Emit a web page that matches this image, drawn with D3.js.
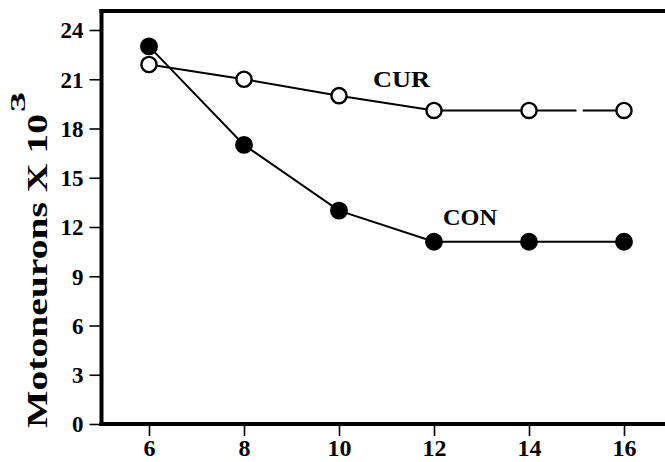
<!DOCTYPE html>
<html>
<head>
<meta charset="utf-8">
<script src="https://cdn.jsdelivr.net/npm/d3@7"></script>
<style>
  html, body { margin: 0; padding: 0; background: #fff; }
  svg { display: block; }
  text { font-family: "Liberation Serif", "Times New Roman", serif; font-weight: bold; fill: #000; }
</style>
</head>
<body>
<svg id="chart" width="665" height="462"></svg>
<script>
// Age (days) on the x axis
const ages = [6, 8, 10, 12, 14, 16];
// Motoneuron counts (x 10^3)
const curValues = [21.9, 21.0, 20.0, 19.1, 19.1, 19.1];
const conValues = [23.0, 17.0, 13.0, 11.1, 11.1, 11.1];
// Axis ticks
const xTicks = [6, 8, 10, 12, 14, 16];
const yTicks = [0, 3, 6, 9, 12, 15, 18, 21, 24];
// Series labels
const seriesNames = ["CUR", "CON"];
// Short break drawn in the CUR line between its last two points
const curBreak = [15.0, 15.13];

const svg = d3.select("#chart");

const x = d3.scaleLinear().domain([5, 17]).range([101.5, 671.5]);
const y = d3.scaleLinear().domain([0, 24]).range([424, 30]);
const yTop = 25.15;

// Axes (ticks + labels only; the frame is drawn separately)
const yAxis = svg.append("g")
  .attr("transform", `translate(${x(5)},0)`)
  .call(d3.axisLeft(y).tickValues(yTicks).tickSize(12).tickPadding(6));
yAxis.select(".domain").remove();
yAxis.selectAll(".tick line").attr("stroke", "#000").attr("stroke-width", 1.6);
yAxis.selectAll(".tick text")
  .style("font-size", "23px").attr("dy", "0.34em").attr("x", -18);

const xAxis = svg.append("g")
  .attr("transform", `translate(0,${y(0)})`)
  .call(d3.axisBottom(x).tickValues(xTicks).tickSize(12).tickPadding(0));
xAxis.select(".domain").remove();
xAxis.selectAll(".tick line").attr("stroke", "#000").attr("stroke-width", 1.6);
xAxis.selectAll(".tick text")
  .style("font-size", "24px").attr("dy", null).attr("y", 32);

// Frame: left, bottom and top edges
const frame = svg.append("g").attr("stroke", "#000").attr("stroke-width", 4).attr("fill", "none");
frame.append("line").attr("x1", x(5)).attr("x2", x(5)).attr("y1", y(yTop) - 2).attr("y2", y(0) + 2);
frame.append("line").attr("x1", x(5) - 2).attr("x2", x(17)).attr("y1", y(0)).attr("y2", y(0));
frame.append("line").attr("x1", x(5) - 2).attr("x2", x(17)).attr("y1", y(yTop)).attr("y2", y(yTop));

// Y axis title
const title = svg.append("g").attr("transform", `translate(47,${428}) rotate(-90)`);
title.append("text")
  .attr("x", 0).attr("y", 0)
  .attr("textLength", 314).attr("lengthAdjust", "spacingAndGlyphs")
  .style("font-size", "30px")
  .text("Motoneurons X 10");
title.append("text")
  .attr("x", 316).attr("y", -22)
  .attr("textLength", 20).attr("lengthAdjust", "spacingAndGlyphs")
  .style("font-size", "22px")
  .text("3");

const pts = (vals) => ages.map((a, i) => [a, vals[i]]);
const line = d3.line().x(d => x(d[0])).y(d => y(d[1]));

// CON: solid line with filled markers
svg.append("path")
  .datum(pts(conValues))
  .attr("d", line)
  .attr("fill", "none").attr("stroke", "#000").attr("stroke-width", 2);

// CUR: solid line with a short break in its last segment
const curPts = pts(curValues);
svg.append("path")
  .datum(curPts.slice(0, curPts.length - 1))
  .attr("d", line)
  .attr("fill", "none").attr("stroke", "#000").attr("stroke-width", 2);
{
  const a = curPts[curPts.length - 2], b = curPts[curPts.length - 1];
  const segLen = Math.hypot(x(b[0]) - x(a[0]), y(b[1]) - y(a[1]));
  const gapStart = x(curBreak[0]) - x(a[0]);
  const gapLen = x(curBreak[1]) - x(curBreak[0]);
  svg.append("path")
    .datum([a, b])
    .attr("d", line)
    .attr("fill", "none").attr("stroke", "#000").attr("stroke-width", 2)
    .attr("stroke-dasharray", `${gapStart} ${gapLen} ${segLen}`);
}

svg.append("g").selectAll("circle")
  .data(pts(conValues)).join("circle")
  .attr("cx", d => x(d[0])).attr("cy", d => y(d[1]))
  .attr("r", 8.2).attr("fill", "#000").attr("stroke", "#000").attr("stroke-width", 1.5);

svg.append("g").selectAll("circle")
  .data(curPts).join("circle")
  .attr("cx", d => x(d[0])).attr("cy", d => y(d[1]))
  .attr("r", 7.6).attr("fill", "#fff").attr("stroke", "#000").attr("stroke-width", 2.4);

// Series labels
svg.append("text")
  .attr("x", 373).attr("y", 87)
  .attr("textLength", 57).attr("lengthAdjust", "spacingAndGlyphs")
  .style("font-size", "23px")
  .text(seriesNames[0]);
svg.append("text")
  .attr("x", 443).attr("y", 225)
  .attr("textLength", 54).attr("lengthAdjust", "spacingAndGlyphs")
  .style("font-size", "23px")
  .text(seriesNames[1]);
</script>
</body>
</html>
